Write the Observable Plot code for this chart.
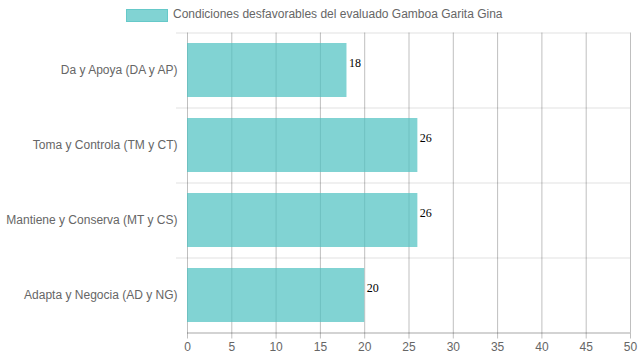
<!DOCTYPE html>
<html>
<head>
<meta charset="utf-8">
<script src="https://cdn.jsdelivr.net/npm/d3@7"></script>
<script src="https://cdn.jsdelivr.net/npm/@observablehq/plot@0.6"></script>
<style>
  body { margin: 0; background: #fff; font-family: "Liberation Sans", Arial, sans-serif; }
  #wrap { width: 639px; }
  #legend { position: relative; height: 26px; }
  #legend .box { position: absolute; left: 126px; top: 9px; width: 40px; height: 11px;
    background: rgba(75,192,192,0.7); border: 1px solid rgba(75,192,192,0.5); }
  #legend .lbl { position: absolute; left: 173px; top: 7px; font-size: 12px; color: #666; line-height: 15px; white-space: nowrap; }
</style>
</head>
<body>
<div id="wrap">
  <div id="legend"><div class="box"></div><div class="lbl">Condiciones desfavorables del evaluado Gamboa Garita Gina</div></div>
  <div id="chart"></div>
</div>
<script>
const categories = [
  "Da y Apoya (DA y AP)",
  "Toma y Controla (TM y CT)",
  "Mantiene y Conserva (MT y CS)",
  "Adapta y Negocia (AD y NG)"
];
const values = [18, 26, 26, 20];
const xTicks = [0, 5, 10, 15, 20, 25, 30, 35, 40, 45, 50];

const data = categories.map((c, i) => ({category: c, value: values[i]}));

const chart = Plot.plot({
  width: 639,
  height: 334,
  marginLeft: 187,
  marginRight: 9,
  marginTop: 6.5,
  marginBottom: 27.5,
  style: {fontFamily: "'Liberation Sans', Arial, sans-serif", fontSize: "12px", background: "#fff"},
  x: {domain: [0, 50]},
  y: {domain: categories, paddingInner: 0.28, paddingOuter: 0.14, align: 0.5},
  marks: [
    Plot.ruleY(categories, {y: d => d, dy: -37.5, stroke: "#000", strokeOpacity: 0.08, strokeWidth: 1.5, insetLeft: -11}),
    Plot.gridX(xTicks, {stroke: "#000", strokeOpacity: 0.25, strokeWidth: 1}),
    Plot.barX(data, {x: "value", y: "category", fill: "rgb(75,192,192)", fillOpacity: 0.7}),
    Plot.ruleY([categories[categories.length - 1]], {y: d => d, dy: 37.5, stroke: "#000", strokeOpacity: 0.35, strokeWidth: 1}),
    Plot.axisX({ticks: xTicks, tickSize: 6, tickPadding: 3, stroke: "#000", strokeOpacity: 0.25, fill: "#666", fontSize: 12, label: null}),
    Plot.axisY({tickSize: 0, tickPadding: 10, fill: "#666", fontSize: 12, label: null}),
    Plot.text(data, {x: "value", y: "category", text: d => String(d.value), textAnchor: "start", dx: 2, dy: -7,
      fontFamily: "'Liberation Serif', 'Times New Roman', serif", fontSize: 12, fill: "#000"})
  ]
});
document.getElementById("chart").appendChild(chart);
</script>
</body>
</html>
